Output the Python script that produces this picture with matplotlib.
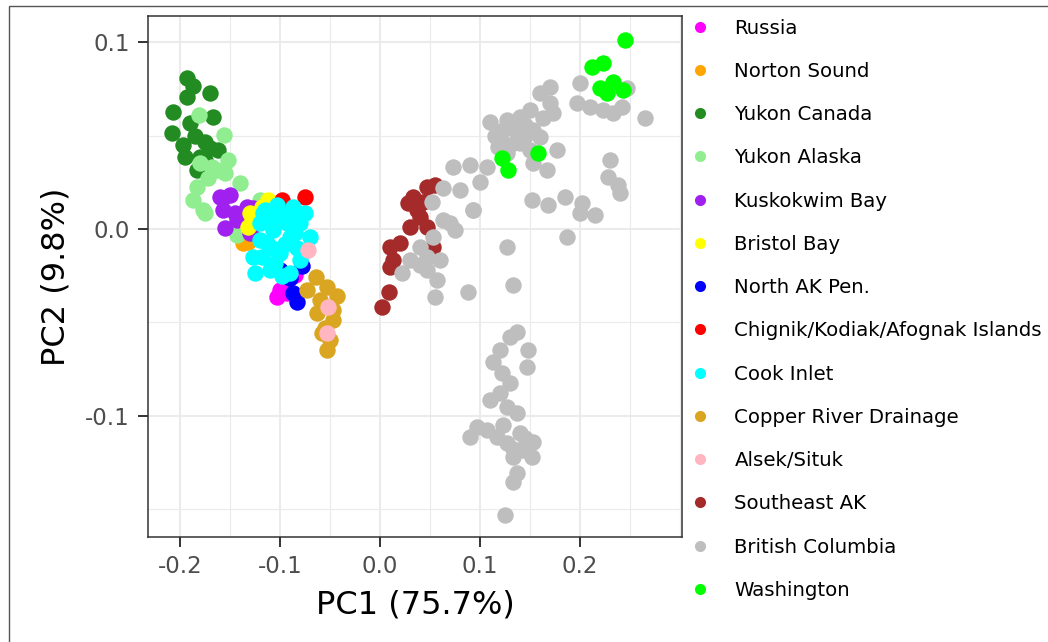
import matplotlib.pyplot as plt
from matplotlib.lines import Line2D
from matplotlib.patches import Rectangle
from matplotlib.ticker import MultipleLocator

# PCA scores, one pair of lists per region
russia_x = [-0.100, -0.103, -0.093, -0.085]
russia_y = [-0.0327, -0.0363, -0.0345, -0.0247]

norton_x = [-0.137, -0.132, -0.128]
norton_y = [-0.0075, -0.0070, -0.0030]

yukon_ca_x = [-0.193, -0.187, -0.170, -0.193, -0.207, -0.167, -0.190, -0.208, -0.197,
              -0.175, -0.170, -0.162, -0.195, -0.180, -0.183, -0.185, -0.175]
yukon_ca_y = [0.0810, 0.0767, 0.0729, 0.0708, 0.0627, 0.0601, 0.0568, 0.0515, 0.0450,
              0.0466, 0.0434, 0.0424, 0.0386, 0.0386, 0.0316, 0.0500, 0.0370]

yukon_ak_x = [-0.181, -0.156, -0.152, -0.168, -0.155, -0.140, -0.183, -0.172, -0.187,
              -0.177, -0.120, -0.163, -0.143, -0.175, -0.180]
yukon_ak_y = [0.0611, 0.0504, 0.0370, 0.0334, 0.0300, 0.0247, 0.0227, 0.0273, 0.0156,
              0.0102, 0.0156, 0.0316, -0.0032, 0.0086, 0.0354]

kusko_x = [-0.157, -0.150, -0.157, -0.133, -0.143, -0.155, -0.130, -0.125, -0.127, -0.145, -0.160]
kusko_y = [0.0166, 0.0182, 0.0102, 0.0120, 0.0048, 0.0005, -0.0021, 0.0086, 0.0113, 0.0086, 0.0173]

bristol_x = [-0.112, -0.128, -0.132, -0.130, -0.118]
bristol_y = [0.0156, 0.0059, 0.0010, 0.0086, 0.0120]

nak_x = [-0.110, -0.100, -0.090, -0.078, -0.087, -0.083, -0.112]
nak_y = [0.0059, -0.0220, -0.0260, -0.0200, -0.0345, -0.0390, 0.0086]

chignik_x = [-0.075, -0.098]
chignik_y = [0.0173, 0.0156]

cook_x = [-0.103, -0.087, -0.075, -0.120, -0.070, -0.127, -0.125, -0.110, -0.090, -0.080,
          -0.100, -0.113, -0.090, -0.107, -0.093, -0.080, -0.120, -0.100, -0.117, -0.095,
          -0.083, -0.105, -0.115, -0.105, -0.085, -0.075, -0.098, -0.118, -0.088, -0.108]
cook_y = [0.0129, 0.0120, 0.0086, 0.0032, -0.0041, -0.0148, -0.0236, -0.0220, -0.0236, -0.0166,
          -0.0130, -0.0075, -0.0041, -0.0005, 0.0032, 0.0032, -0.0060, 0.0086, 0.0086, -0.0080,
          -0.0100, -0.0180, 0.0100, 0.0050, -0.0020, -0.0120, -0.0250, -0.0150, 0.0080, -0.0100]

copper_x = [-0.064, -0.073, -0.053, -0.043, -0.060, -0.063, -0.047, -0.055, -0.058, -0.050, -0.053, -0.047]
copper_y = [-0.0257, -0.0327, -0.0311, -0.0359, -0.0381, -0.0451, -0.0434, -0.0531, -0.0558,
            -0.0595, -0.0649, -0.0488]

alsek_x = [-0.072, -0.052, -0.053]
alsek_y = [-0.0113, -0.0418, -0.0555]

se_ak_x = [0.047, 0.055, 0.033, 0.037, 0.030, 0.047, 0.040, 0.010, 0.020, 0.053,
           0.013, 0.010, 0.009, 0.002, 0.028, 0.043]
se_ak_y = [0.0227, 0.0236, 0.0173, 0.0102, 0.0012, 0.0012, 0.0066, -0.0095, -0.0075, -0.0095,
           -0.0166, -0.0202, -0.0336, -0.0417, 0.0139, 0.0147]

bc_x = [0.073, 0.090, 0.107, 0.080, 0.063, 0.052, 0.093, 0.063, 0.075, 0.053,
        0.040, 0.060, 0.030, 0.022, 0.047, 0.057, 0.055, 0.088, 0.127, 0.133,
        0.040, 0.047, 0.070,
        0.110, 0.127, 0.140, 0.150, 0.170, 0.160, 0.170, 0.173, 0.163, 0.123,
        0.137, 0.153, 0.160, 0.123, 0.140, 0.150, 0.177, 0.127, 0.153, 0.167,
        0.200, 0.197, 0.210, 0.223, 0.233, 0.242, 0.247, 0.265, 0.230, 0.228,
        0.238, 0.240, 0.152, 0.168, 0.185, 0.202, 0.200, 0.215, 0.093, 0.100,
        0.187, 0.115, 0.133, 0.145, 0.130, 0.118, 0.145,
        0.137, 0.130, 0.148, 0.147, 0.120, 0.113, 0.122, 0.130, 0.120, 0.110,
        0.127, 0.137, 0.097, 0.090, 0.107, 0.117, 0.127, 0.140, 0.153, 0.143,
        0.152, 0.133, 0.137, 0.133, 0.125, 0.123, 0.133, 0.145]
bc_y = [0.0334, 0.0343, 0.0334, 0.0209, 0.0220, 0.0147, 0.0102, 0.0048, -0.0005, -0.0041,
        -0.0095, -0.0166, -0.0166, -0.0236, -0.0220, -0.0273, -0.0363, -0.0336, -0.0095, -0.0300,
        -0.0193, -0.0148, 0.0032,
        0.0575, 0.0584, 0.0602, 0.0638, 0.0763, 0.0728, 0.0674, 0.0620, 0.0595, 0.0531,
        0.0513, 0.0531, 0.0495, 0.0460, 0.0460, 0.0424, 0.0424, 0.0406, 0.0352, 0.0316,
        0.0781, 0.0674, 0.0656, 0.0638, 0.0620, 0.0656, 0.0754, 0.0593, 0.0370, 0.0281,
        0.0236, 0.0191, 0.0156, 0.0129, 0.0173, 0.0138, 0.0084, 0.0075, 0.0102, 0.0254,
        -0.0041, 0.0500, 0.0550, 0.0500, 0.0450, 0.0440, 0.0560,
        -0.0551, -0.0577, -0.0649, -0.0738, -0.0649, -0.0711, -0.0774, -0.0828, -0.0881, -0.0917,
        -0.0953, -0.0988, -0.1059, -0.1113, -0.1078, -0.1113, -0.1149, -0.1096, -0.1140, -0.1185,
        -0.1221, -0.1221, -0.1310, -0.1355, -0.1534, -0.1050, -0.1180, -0.1120]

wash_x = [0.212, 0.223, 0.220, 0.233, 0.227, 0.243, 0.122, 0.128, 0.158, 0.245]
wash_y = [0.0871, 0.0888, 0.0754, 0.0790, 0.0728, 0.0745, 0.0379, 0.0316, 0.0406, 0.1013]

regions = ["Russia", "Norton Sound", "Yukon Canada", "Yukon Alaska", "Kuskokwim Bay",
           "Bristol Bay", "North AK Pen.", "Chignik/Kodiak/Afognak Islands", "Cook Inlet",
           "Copper River Drainage", "Alsek/Situk", "Southeast AK", "British Columbia", "Washington"]
region_colors = ["#FF00FF", "#FFA500", "#228B22", "#90EE90", "#A020F0", "#FFFF00", "#0000FF",
                 "#FF0000", "#00FFFF", "#DAA520", "#FFB6C1", "#A52A2A", "#BEBEBE", "#00FF00"]
xs = [russia_x, norton_x, yukon_ca_x, yukon_ak_x, kusko_x, bristol_x, nak_x,
      chignik_x, cook_x, copper_x, alsek_x, se_ak_x, bc_x, wash_x]
ys = [russia_y, norton_y, yukon_ca_y, yukon_ak_y, kusko_y, bristol_y, nak_y,
      chignik_y, cook_y, copper_y, alsek_y, se_ak_y, bc_y, wash_y]

plt.rcParams['font.family'] = ['DejaVu Sans']

fig = plt.figure(figsize=(10.48, 6.42), dpi=100)
ax = fig.add_axes([148 / 1048, 1 - 537 / 642, 534 / 1048, 521 / 642])

for name, col, x, y in zip(regions, region_colors, xs, ys):
    ax.scatter(x, y, s=140, color=col, linewidths=0, zorder=3)

ax.set_xlim(-0.232, 0.302)
ax.set_ylim(-0.1651, 0.1142)
ax.xaxis.set_minor_locator(MultipleLocator(0.05))
ax.yaxis.set_minor_locator(MultipleLocator(0.05))
ax.set_xticks([-0.2, -0.1, 0.0, 0.1, 0.2])
ax.set_xticklabels(["-0.2", "-0.1", "0.0", "0.1", "0.2"])
ax.set_yticks([-0.1, 0.0, 0.1])
ax.set_yticklabels(["-0.1", "0.0", "0.1"])
ax.grid(True, which='major', color='#EBEBEB', linewidth=1.5, zorder=0)
ax.grid(True, which='minor', color='#EBEBEB', linewidth=0.8, zorder=0)
ax.set_axisbelow(True)
ax.tick_params(which='major', length=7, width=1.4, color='#333333', labelsize=16.5,
               labelcolor='#4D4D4D', pad=6)
ax.tick_params(which='minor', length=0)
for sp in ax.spines.values():
    sp.set_color('#333333')
    sp.set_linewidth(1.1)

ax.set_xlabel("PC1 (75.7%)", fontsize=23, labelpad=8)
ax.set_ylabel("PC2 (9.8%)", fontsize=23, labelpad=10)

handles = [Line2D([], [], marker='o', linestyle='', markersize=8, markerfacecolor=c,
                  markeredgewidth=0) for c in region_colors]
fig.legend(handles, regions, loc='upper left', bbox_to_anchor=(690 / 1048, 1 - 18.5 / 642),
           frameon=False, fontsize=14.2, handlelength=1.0, handletextpad=1.25,
           labelspacing=1.23, borderpad=0, borderaxespad=0)

# thin frame round the whole picture
fig.patches.append(Rectangle((9 / 1048, -0.1), 1.2, 1.1 - 6 / 642,
                             transform=fig.transFigure, fill=False,
                             edgecolor='#555555', linewidth=1.0))

fig.savefig("out.png", dpi=100)
